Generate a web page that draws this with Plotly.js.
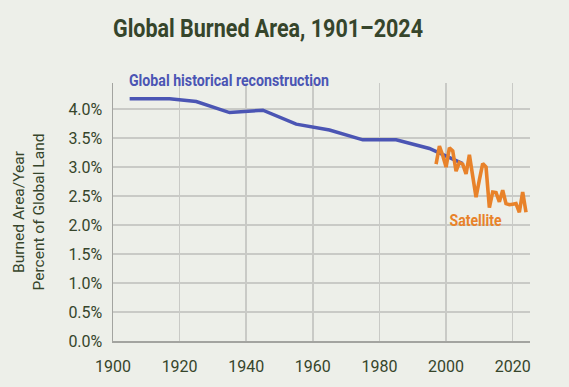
<!DOCTYPE html>
<html>
<head>
<meta charset="utf-8">
<script src="https://cdn.plot.ly/plotly-3.0.1.min.js"></script>
<style>
  html, body { margin: 0; padding: 0; background: #edefe9; }
  #chart { width: 569px; height: 387px; }
</style>
</head>
<body>
<div id="chart"></div>
<script>
// Global historical reconstruction (percent of global land burned per year)
const reconYears  = [1905, 1917, 1925, 1935, 1945, 1955, 1965, 1975, 1985, 1995, 2005];
const reconValues = [4.18, 4.18, 4.13, 3.94, 3.98, 3.74, 3.64, 3.47, 3.47, 3.32, 3.06];

// Satellite observations
const satYears  = [1997, 1998, 1999, 2000, 2001, 2002, 2003, 2004, 2005, 2006,
                   2007, 2008, 2009, 2010, 2011, 2012, 2013, 2014, 2015, 2016,
                   2017, 2018, 2019, 2020, 2021, 2022, 2023, 2024];
const satValues = [3.05, 3.36, 3.20, 3.00, 3.33, 3.28, 2.93, 3.08, 3.05, 2.88,
                   3.21, 2.85, 2.48, 2.78, 3.06, 3.00, 2.30, 2.57, 2.56, 2.40,
                   2.60, 2.37, 2.35, 2.36, 2.37, 2.22, 2.57, 2.22];

const xTickVals = [1900, 1920, 1940, 1960, 1980, 2000, 2020];
const titleText = "Global Burned Area, 1901\u20132024";
const reconLabel = "Global historical reconstruction";
const satLabel = "Satellite";
const yTitle = "Burned Area/Year<br>Percent of Global Land";

const BG = "#edefe9";
const BLUE = "#4b55b4";
const ORANGE = "#e8822a";
const DARK = "#36452b";
const GRID = "#c9cac6";
const FONT = "Roboto, sans-serif";

const traces = [
  { x: reconYears, y: reconValues, type: "scatter", mode: "lines",
    line: { color: BLUE, width: 3.5 }, hoverinfo: "skip" },
  { x: satYears, y: satValues, type: "scatter", mode: "lines",
    line: { color: ORANGE, width: 3.6 }, hoverinfo: "skip" }
];

const layout = {
  width: 569, height: 387,
  paper_bgcolor: BG, plot_bgcolor: BG,
  showlegend: false,
  margin: { l: 113, r: 39, t: 83, b: 46, pad: 0 },
  font: { family: FONT, color: DARK },
  title: {
    text: "<b>" + titleText + "</b>",
    font: { family: FONT, size: 26.5, color: DARK },
    xref: "container", x: 0.471, xanchor: "center",
    yref: "container", y: 0.928, yanchor: "middle"
  },
  xaxis: {
    range: [1900, 2025.2],
    tickvals: xTickVals,
    showgrid: true, gridcolor: GRID, gridwidth: 1.5,
    showline: true, linecolor: "#a3a4a0", linewidth: 1.5,
    zeroline: false, ticks: "",
    ticklabelstandoff: 10,
    tickfont: { family: FONT, size: 16, color: DARK }
  },
  yaxis: {
    range: [0, 4.45],
    dtick: 0.5, tick0: 0,
    tickformat: ".1f", ticksuffix: "%",
    showgrid: true, gridcolor: GRID, gridwidth: 1.5,
    showline: true, linecolor: "#a3a4a0", linewidth: 1.5,
    zeroline: false, ticks: "",
    ticklabelstandoff: 6,
    tickfont: { family: FONT, size: 16, color: DARK },
    title: { text: yTitle, font: { family: FONT, size: 15.5, color: DARK }, standoff: 20 }
  },
  annotations: [
    { text: "<b>" + reconLabel + "</b>", xref: "paper", yref: "paper",
      x: 0.279, y: 1.008, xanchor: "center", yanchor: "middle", showarrow: false,
      font: { family: FONT, size: 16, color: BLUE } },
    { text: "<b>" + satLabel + "</b>", xref: "paper", yref: "paper",
      x: 0.870, y: 0.467, xanchor: "center", yanchor: "middle", showarrow: false,
      font: { family: FONT, size: 16, color: ORANGE } }
  ]
};

// Condensed look: squeeze the bold labels horizontally (the reference uses a condensed face)
function condense(el, len) {
  if (!el) return;
  el.setAttribute("textLength", len);
  el.setAttribute("lengthAdjust", "spacingAndGlyphs");
}

Plotly.newPlot("chart", traces, layout, { displayModeBar: false, staticPlot: true }).then(function (gd) {
  condense(gd.querySelector(".gtitle"), 310);
  const ann = gd.querySelectorAll(".annotation-text");
  condense(ann[0], 200);
  condense(ann[1], 52);
});
</script>
</body>
</html>
